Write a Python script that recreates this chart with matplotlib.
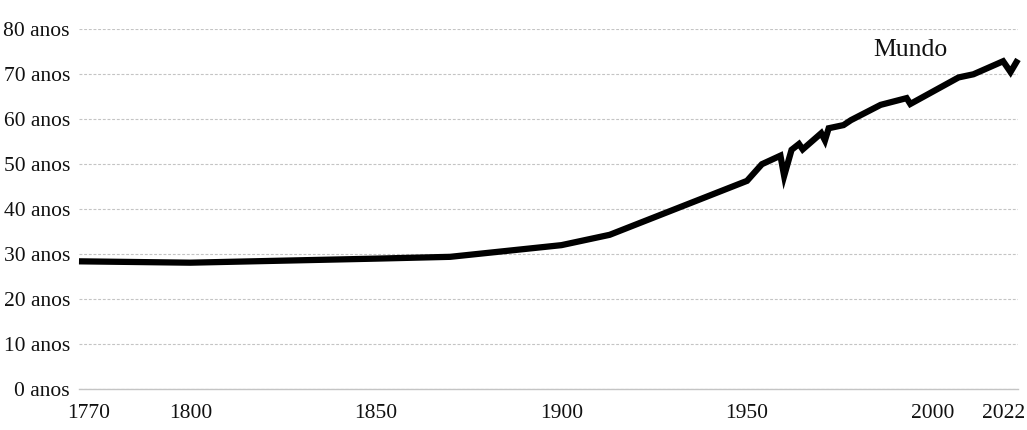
import matplotlib.pyplot as plt
from matplotlib.transforms import ScaledTranslation

# World life expectancy at birth
years = [1770, 1800, 1850, 1870, 1900, 1913, 1950, 1954, 1959, 1960, 1962,
         1964, 1965, 1970, 1971, 1972, 1976, 1978, 1986, 1993, 1994, 2007,
         2011, 2019, 2021, 2023]
life_expectancy = [28.4, 28.1, 29.0, 29.4, 32.0, 34.3, 46.3, 50.0, 51.9, 47.4, 53.2,
                   54.5, 53.3, 56.9, 55.3, 58.0, 58.7, 59.8, 63.2, 64.7, 63.4, 69.3,
                   70.0, 72.9, 70.5, 73.3]

y_ticks = [0, 10, 20, 30, 40, 50, 60, 70, 80]
y_tick_labels = ["0 anos", "10 anos", "20 anos", "30 anos", "40 anos",
                 "50 anos", "60 anos", "70 anos", "80 anos"]
x_ticks = [1770, 1800, 1850, 1900, 1950, 2000, 2022]
x_tick_labels = ["1770", "1800", "1850", "1900", "1950", "2000", "2022"]
series_name = "Mundo"

TEXT_COLOR = "#111111"
GRID_COLOR = "#c4c4c4"


def shift_label(fig, label, dx_px):
    """
    Utility function to nudge a tick label sideways by some pixels
    """
    offset = ScaledTranslation(dx_px / fig.dpi, 0, fig.dpi_scale_trans)
    label.set_transform(label.get_transform() + offset)


def plot_chart(output_file):
    """
    Draw the life expectancy line chart
    """
    plt.rcParams['font.family'] = ['Liberation Serif', 'DejaVu Serif']

    fig = plt.figure(figsize=(10.27, 4.30), dpi=100)
    ax = fig.add_axes([0.0769, 0.0953, 0.9143, 0.8365])

    ax.plot(years, life_expectancy, color="black", linewidth=4.5,
            solid_joinstyle="miter", solid_capstyle="butt", clip_on=False, zorder=3)

    # label of the series, sitting above the end of the line
    ax.text(1994, 74.1, series_name, ha="center", va="baseline",
            fontsize=18.5, color=TEXT_COLOR)

    ax.set_xlim(1770, 2023)
    ax.set_ylim(0, 80)

    ax.set_yticks(y_ticks)
    ax.set_yticklabels(y_tick_labels)
    ax.set_xticks(x_ticks)
    ax.set_xticklabels(x_tick_labels)
    ax.tick_params(axis="both", length=0, labelsize=15.5, labelcolor=TEXT_COLOR)
    ax.tick_params(axis="y", pad=6.5)
    ax.tick_params(axis="x", pad=11)

    # dashed horizontal grid, solid baseline
    ax.yaxis.grid(True, color=GRID_COLOR, linestyle=(0, (2.6, 1.6)), linewidth=0.8)
    ax.set_axisbelow(True)
    for side in ["top", "right", "left"]:
        ax.spines[side].set_visible(False)
    ax.spines["bottom"].set_color(GRID_COLOR)
    ax.spines["bottom"].set_linewidth(1.0)

    # edge labels are pulled inwards like in the original
    labels = ax.get_xticklabels()
    shift_label(fig, labels[0], 10)
    shift_label(fig, labels[-1], -11)

    fig.savefig(output_file, dpi=100)


plot_chart("out.png")
